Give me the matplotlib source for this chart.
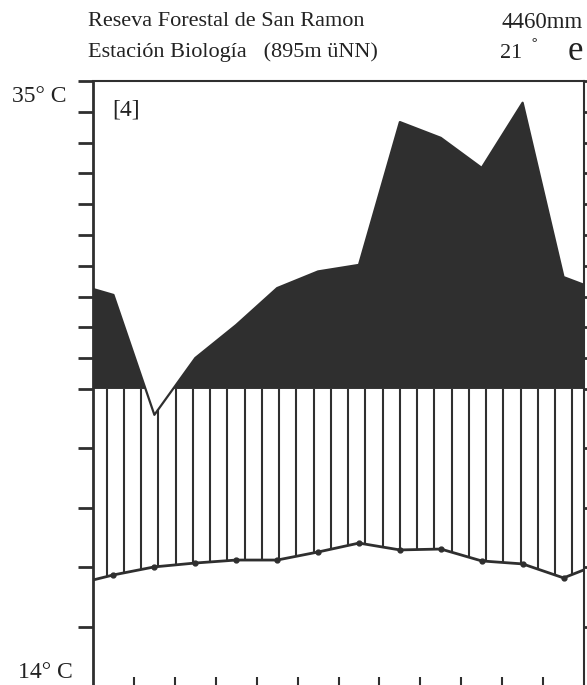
import numpy as np
import matplotlib
matplotlib.use("Agg")
import matplotlib.pyplot as plt

# ============================== Data ==============================
months = ["Jan", "Feb", "Mar", "Apr", "May", "Jun", "Jul", "Aug", "Sep", "Oct", "Nov", "Dec"]

# temperature line, on the left scale (deg C)
temp = [17.75, 18.02, 18.15, 18.25, 18.25, 18.52, 18.82, 18.59, 18.62, 18.22, 18.12, 17.65]
temp_edges = [17.58, 17.92]          # value where the line meets the left / right frame

# precipitation line, in the same plot units (100 mm level = 24)
prec = [27.16, 23.13, 25.04, 26.15, 27.39, 27.95, 28.17, 32.97, 32.44, 31.43, 33.62, 27.76]
prec_edges = [27.36, 27.50]

BASE = 24.0
Y_MIN, Y_MAX = 14.0, 34.35

title_left = ["Reseva Forestal de San Ramon", "Estación Biología   (895m üNN)"]
title_right = "4460mm"
mean_temp = "21"

DARK = "#2f2f2f"
TXT = "#222222"

# ============================== Figure ==============================
plt.rcParams["font.family"] = ["Liberation Serif", "DejaVu Serif"]

fig = plt.figure(figsize=(5.87, 6.85), dpi=100)
ax = fig.add_axes([93 / 587, -1.5 / 685, 491 / 587, 605.5 / 685])
ax.set_xlim(0, 12)
ax.set_ylim(Y_MIN, Y_MAX)

mid = np.arange(12) + 0.5
px = np.concatenate([[0], mid, [12]])
py = np.concatenate([[prec_edges[0]], prec, [prec_edges[1]]])
tx = px
ty = np.concatenate([[temp_edges[0]], temp, [temp_edges[1]]])

# black area: precipitation above the 100 mm level
ax.fill_between(px, BASE, py, where=py >= BASE, interpolate=True, color=DARK, lw=0)
ax.plot(px, py, color=DARK, lw=1.6)

# vertical hatching between precipitation (capped at the base) and temperature
hx = np.arange(28) * 0.4215 + 0.335
h_top = np.minimum(np.interp(hx, px, py), BASE)
h_bot = np.interp(hx, tx, ty)
ax.vlines(hx, h_bot, h_top, color=DARK, lw=1.5)

# temperature line
ax.plot(tx, ty, color=DARK, lw=2)
ax.plot(mid, temp, "o", color=DARK, ms=3.5)

# axes styling
for side in ["left", "right", "top", "bottom"]:
    ax.spines[side].set_color(DARK)
ax.spines["left"].set_linewidth(2)
ax.spines["top"].set_linewidth(1.5)
ax.spines["right"].set_linewidth(1.5)

lower_ticks = [16, 18, 20, 22, 24]
upper_ticks = list(np.linspace(BASE, Y_MAX, 11)[1:])
ax.set_yticks(lower_ticks + upper_ticks)
ax.set_yticklabels([])
ax.tick_params(axis="y", which="both", direction="out", length=11, width=2, color=DARK,
               left=True, right=True)
ax.set_xticks(np.arange(1, 12))
ax.set_xticklabels([])
ax.tick_params(axis="x", direction="in", length=7, width=1.5, color=DARK)

# texts
fig.text(88 / 587, 1 - 22 / 685, title_left[0], fontsize=16, va="center", ha="left", color=TXT)
fig.text(88 / 587, 1 - 52 / 685, title_left[1], fontsize=16, va="center", ha="left", color=TXT)
fig.text(583 / 587, 1 - 22 / 685, title_right, fontsize=16.5, va="center", ha="right", color=TXT)
fig.text(500 / 587, 1 - 53 / 685, mean_temp, fontsize=16, va="center", ha="left", color=TXT)
fig.text(530 / 587, 1 - 49 / 685, "˚", fontsize=16, va="center", ha="left", color=TXT)
fig.text(583 / 587, 1 - 51 / 685, "e", fontsize=25, va="center", ha="right", color=TXT)

fig.text(12 / 587, 1 - 96 / 685, "35° C", fontsize=17, va="center", ha="left", color=TXT)
fig.text(18 / 587, 1 - 673 / 685, "14° C", fontsize=17, va="center", ha="left", color=TXT)
fig.text(112 / 587, 1 - 110 / 685, "[4]", fontsize=17, va="center", ha="left", color=TXT)

fig.savefig("out.png", dpi=100)
